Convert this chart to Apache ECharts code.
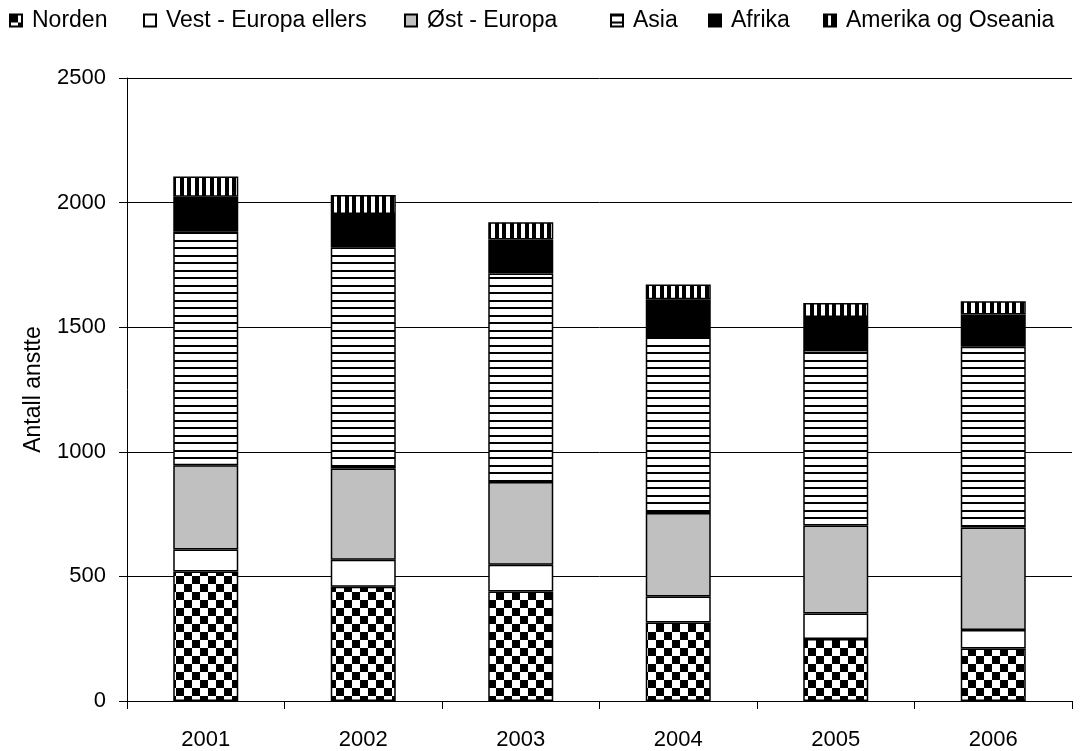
<!DOCTYPE html>
<html>
<head>
<meta charset="utf-8">
<script src="https://cdn.jsdelivr.net/npm/echarts@6/dist/echarts.min.js"></script>
<style>
html,body{margin:0;padding:0;background:#fff;}
#chart{width:1081px;height:751px;}
</style>
</head>
<body>
<div id="chart"></div>
<script>
const categories = ['2001', '2002', '2003', '2004', '2005', '2006'];
const seriesNames = ['Norden', 'Vest - Europa ellers', 'Øst - Europa', 'Asia', 'Afrika', 'Amerika og Oseania'];
const norden = [520, 458, 439, 315, 249, 211];
const vestEuropa = [88, 109, 108, 104, 102, 74];
const ostEuropa = [338, 366, 332, 335, 353, 411];
const asia = [937, 888, 836, 711, 705, 726];
const afrika = [140, 133, 137, 147, 132, 129];
const amerika = [82, 76, 69, 59, 56, 53];
const yTicks = [0, 500, 1000, 1500, 2000, 2500];

function makeCanvas(w, h, draw) {
  const c = document.createElement('canvas');
  c.width = w; c.height = h;
  const ctx = c.getContext('2d');
  ctx.fillStyle = '#fff';
  ctx.fillRect(0, 0, w, h);
  ctx.fillStyle = '#000';
  draw(ctx);
  return { image: c, repeat: 'repeat' };
}
const checker = makeCanvas(16, 16, function (ctx) {
  ctx.fillRect(0, 0, 8, 8);
  ctx.fillRect(8, 8, 8, 8);
});
const hLines = makeCanvas(4, 15, function (ctx) {
  ctx.fillRect(0, 0, 4, 2);
  ctx.fillRect(0, 7, 4, 2);
});
const vLines = makeCanvas(15, 4, function (ctx) {
  ctx.fillRect(0, 0, 4, 4);
  ctx.fillRect(7, 0, 4, 4);
});
const fills = [checker, '#ffffff', '#c0c0c0', hLines, '#000000', vLines];
const dataSets = [norden, vestEuropa, ostEuropa, asia, afrika, amerika];
const legendLeft = [9, 143, 404, 610, 708, 823];

const chart = echarts.init(document.getElementById('chart'), null, { renderer: 'canvas' });
const font = 'Liberation Sans, Arial, sans-serif';
chart.setOption({
  animation: false,
  backgroundColor: '#fff',
  textStyle: { fontFamily: font },
  legend: seriesNames.map(function (name, i) {
    return {
      top: 9,
      left: legendLeft[i],
      itemWidth: 12,
      itemHeight: 12,
      icon: 'rect',
      padding: 0,
      textStyle: { fontSize: 23, color: '#000', fontFamily: font, padding: [0, 0, 0, 5] },
      data: [name]
    };
  }),
  grid: { left: 127, right: 9, top: 78, bottom: 48, containLabel: false },
  xAxis: {
    type: 'category',
    data: categories,
    axisLine: { lineStyle: { color: '#000', width: 1 } },
    axisTick: { show: true, length: 8, lineStyle: { color: '#000' } },
    axisLabel: { fontSize: 22, color: '#000', margin: 28, fontFamily: font }
  },
  yAxis: {
    type: 'value',
    min: yTicks[0],
    max: yTicks[yTicks.length - 1],
    interval: 500,
    name: 'Antall anstte',
    nameLocation: 'middle',
    nameGap: 82,
    nameTextStyle: { fontSize: 23, color: '#000', fontFamily: font },
    axisLine: { show: true, lineStyle: { color: '#000', width: 1 } },
    axisTick: { show: true, length: 8, lineStyle: { color: '#000' } },
    axisLabel: { fontSize: 22, color: '#000', margin: 21, fontFamily: font, formatter: function (v) { return String(v); } },
    splitLine: { show: true, lineStyle: { color: '#000', width: 1 } }
  },
  series: seriesNames.map(function (name, i) {
    return {
      name: name,
      type: 'bar',
      stack: 'total',
      barWidth: 65,
      data: dataSets[i],
      itemStyle: { color: fills[i], borderColor: '#000', borderWidth: 1.5 },
      emphasis: { disabled: true }
    };
  })
});
</script>
</body>
</html>
